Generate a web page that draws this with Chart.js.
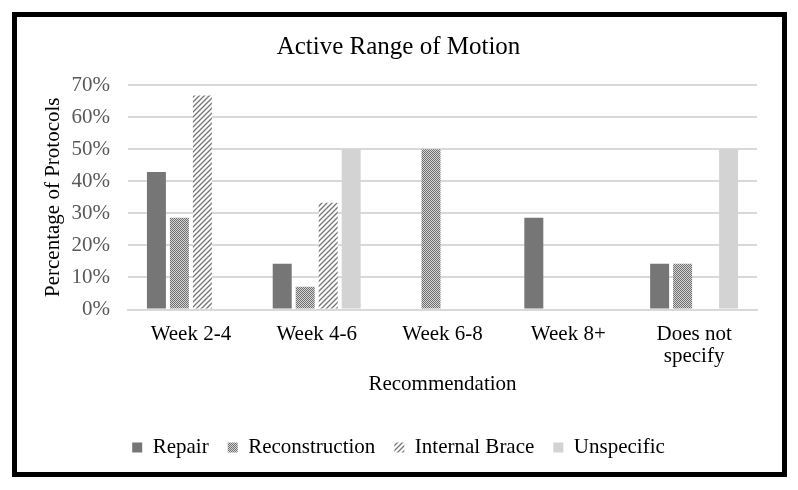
<!DOCTYPE html>
<html><head><meta charset="utf-8">
<script src="https://cdn.jsdelivr.net/npm/chart.js@4/dist/chart.umd.min.js"></script>
<style>
html,body{margin:0;padding:0;background:#fff;}
#wrap{position:absolute;left:0;top:0;width:798px;height:490px;}
#frame{position:absolute;left:12px;top:12px;width:765px;height:455px;border:5px solid #000;}
canvas{position:absolute;left:0;top:0;}
</style></head>
<body>
<div id="wrap"><div id="frame"></div><canvas id="c" width="798" height="490"></canvas></div>
<script>
const categories = [["Week 2-4"], ["Week 4-6"], ["Week 6-8"], ["Week 8+"], ["Does not", "specify"]];
const repair = [42.9, 14.3, 0, 28.6, 14.3];
const reconstruction = [28.6, 7.1, 50, 0, 14.3];
const internalBrace = [66.7, 33.3, 0, 0, 0];
const unspecific = [0, 50, 0, 0, 50];
const yTicks = [0, 10, 20, 30, 40, 50, 60, 70];

function dotPattern(){
  const c = document.createElement('canvas'); c.width = 4; c.height = 4;
  const x = c.getContext('2d');
  x.fillStyle = '#d4d4d4'; x.fillRect(0,0,4,4);
  x.fillStyle = '#707070';
  x.fillRect(0,0,1,1); x.fillRect(2,0,1,1); x.fillRect(1,1,1,1); x.fillRect(3,1,1,1);
  x.fillRect(0,2,1,1); x.fillRect(2,2,1,1); x.fillRect(1,3,1,1); x.fillRect(3,3,1,1);
  return x.createPattern(c, 'repeat');
}
function hatchPattern(){
  const s = 5;
  const c = document.createElement('canvas'); c.width = s; c.height = s;
  const x = c.getContext('2d');
  x.fillStyle = '#ffffff'; x.fillRect(0,0,s,s);
  x.strokeStyle = '#757575'; x.lineWidth = 1.3;
  x.beginPath();
  x.moveTo(0, s); x.lineTo(s, 0);
  x.moveTo(-s/2, s/2); x.lineTo(s/2, -s/2);
  x.moveTo(s/2, s*1.5); x.lineTo(s*1.5, s/2);
  x.stroke();
  return x.createPattern(c, 'repeat');
}

const serif = "'Liberation Serif', 'Times New Roman', serif";
new Chart(document.getElementById('c'), {
  type: 'bar',
  data: {
    labels: categories,
    datasets: [
      {label: 'Repair', data: repair, backgroundColor: '#767676'},
      {label: 'Reconstruction', data: reconstruction, backgroundColor: dotPattern()},
      {label: 'Internal Brace', data: internalBrace, backgroundColor: hatchPattern()},
      {label: 'Unspecific', data: unspecific, backgroundColor: '#d3d3d3'}
    ]
  },
  options: {
    responsive: false,
    animation: false,
    devicePixelRatio: 1,
    layout: {padding: {left: 40, right: 41, top: 16, bottom: 22}},
    datasets: {bar: {categoryPercentage: 0.731, barPercentage: 0.826}},
    plugins: {
      title: {display: true, text: 'Active Range of Motion', color: '#000',
        font: {family: serif, size: 25, weight: 'normal'}, padding: {top: 16.5, bottom: 22.5}},
      legend: {position: 'bottom', labels: {color: '#000', font: {family: serif, size: 21},
        boxWidth: 10, boxHeight: 10, padding: 19}},
      tooltip: {enabled: false}
    },
    scales: {
      x: {
        afterFit: s => { s.height = 108.5; },
        grid: {display: false},
        border: {color: '#d9d9d9', width: 2},
        ticks: {color: '#000', font: {family: serif, size: 21, lineHeight: 1.05}, maxRotation: 0, padding: 5.5},
        title: {display: true, text: 'Recommendation', color: '#000', font: {family: serif, size: 21}, padding: {top: 4, bottom: 21}}
      },
      y: {
        min: 0, max: 70,
        afterFit: s => { s.width = 88; },
        afterBuildTicks: s => { s.ticks = yTicks.map(v => ({value: v})); },
        grid: {color: '#d9d9d9', lineWidth: 2, drawTicks: false},
        border: {display: false},
        ticks: {color: '#595959', font: {family: serif, size: 21}, padding: 18, callback: v => v + '%'},
        title: {display: true, text: 'Percentage of Protocols', color: '#000', font: {family: serif, size: 21}, padding: {top: 1, bottom: 0}}
      }
    }
  }
});
</script>
</body></html>
